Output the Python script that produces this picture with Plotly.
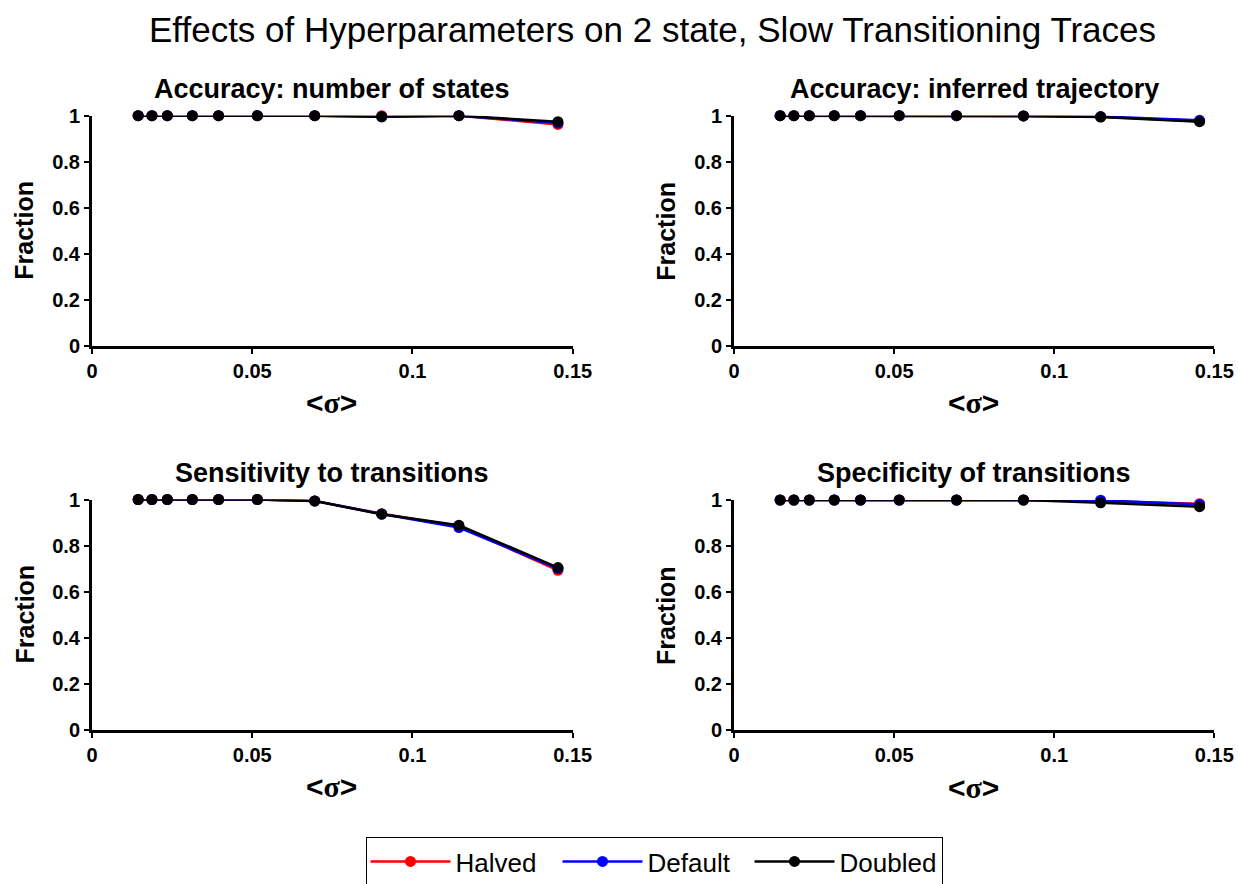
import plotly.graph_objects as go

W, H = 1238, 884


def px(xp):
    return xp / W


def py(yp):
    return 1 - yp / H


sigma = [0.0144, 0.0187, 0.0235, 0.0313, 0.0395, 0.0516, 0.0695, 0.0904, 0.1145, 0.1454]

series_names = ["Halved", "Default", "Doubled"]
series_colors = ["#ff0000", "#0000ff", "#000000"]

panel_titles = [
    "Accuracy: number of states",
    "Accuracy: inferred trajectory",
    "Sensitivity to transitions",
    "Specificity of transitions",
]

num_states_halved = [1, 1, 1, 1, 1, 1, 1, 1.000, 1.000, 0.962]
num_states_default = [1, 1, 1, 1, 1, 1, 1, 0.995, 1.000, 0.968]
num_states_doubled = [1, 1, 1, 1, 1, 1, 1, 0.995, 1.000, 0.974]

trajectory_halved = [1, 1, 1, 1, 1, 1, 1, 0.999, 0.995, 0.976]
trajectory_default = [1, 1, 1, 1, 1, 1, 1, 0.999, 0.996, 0.980]
trajectory_doubled = [1, 1, 1, 1, 1, 1, 1, 0.999, 0.994, 0.974]

sensitivity_halved = [1, 1, 1, 1, 1, 1, 0.994, 0.938, 0.884, 0.692]
sensitivity_default = [1, 1, 1, 1, 1, 1, 0.994, 0.937, 0.878, 0.700]
sensitivity_doubled = [1, 1, 1, 1, 1, 1, 0.993, 0.936, 0.888, 0.704]

specificity_halved = [1, 1, 1, 1, 1, 1, 1, 1.000, 0.995, 0.984]
specificity_default = [1, 1, 1, 1, 1, 1, 1, 1.000, 0.999, 0.980]
specificity_doubled = [1, 1, 1, 1, 1, 1, 1, 1.000, 0.988, 0.971]

panels = [
    [num_states_halved, num_states_default, num_states_doubled],
    [trajectory_halved, trajectory_default, trajectory_doubled],
    [sensitivity_halved, sensitivity_default, sensitivity_doubled],
    [specificity_halved, specificity_default, specificity_doubled],
]

x_ticks = [0, 0.05, 0.1, 0.15]
x_ticklabels = ["0", "0.05", "0.1", "0.15"]
y_ticks = [0, 0.2, 0.4, 0.6, 0.8, 1]
y_ticklabels = ["0", "0.2", "0.4", "0.6", "0.8", "1"]

# pixel boxes (left, right, top, bottom) of each plot area
boxes = [
    (92, 572.7, 115.7, 345.7),
    (734, 1214.3, 115.7, 345.7),
    (92, 572.7, 499.5, 729.5),
    (734, 1214.3, 500, 730),
]

FONT = "Liberation Sans, Arial, sans-serif"

fig = go.Figure()
for i, (ydata, box) in enumerate(zip(panels, boxes)):
    ax = "" if i == 0 else str(i + 1)
    for name, color, ys in zip(series_names, series_colors, ydata):
        fig.add_trace(go.Scatter(
            x=sigma, y=ys, mode="lines+markers", name=name,
            line=dict(color=color, width=2.5),
            marker=dict(color=color, size=11, symbol="circle"),
            xaxis="x" + ax, yaxis="y" + ax,
            showlegend=(i == 0), legendgroup=name, cliponaxis=False,
        ))
    l, r, t, b = box
    common = dict(showgrid=False, zeroline=False, showline=True, linecolor="black",
                  linewidth=3, ticks="outside", ticklen=5, tickwidth=2, tickcolor="black",
                  automargin=False,
                  tickfont=dict(family=FONT, size=20, color="black", weight="bold"))
    fig.layout["xaxis" + ax] = dict(
        domain=[px(l), px(r)], range=[0, 0.15], anchor="y" + ax,
        tickvals=x_ticks, ticktext=x_ticklabels, **common)
    fig.layout["yaxis" + ax] = dict(
        domain=[py(b), py(t)], range=[0, 1], anchor="x" + ax,
        tickvals=y_ticks, ticktext=y_ticklabels, **common)
    cx = (l + r) / 2
    annotations = [
        dict(text="<b>" + panel_titles[i] + "</b>", x=px(cx), y=py(t - 27),
             font=dict(size=27, family=FONT, color="black")),
        dict(text="<b>&lt;<span style='font-family:Liberation Serif'>σ</span>&gt;</b>",
             x=px(cx - 1), y=py(t + 287),
             font=dict(size=30, family=FONT, color="black")),
        dict(text="<b>Fraction</b>", x=px(l - 68), y=py(t + 115), textangle=-90,
             font=dict(size=25, family=FONT, color="black")),
    ]
    for a in annotations:
        a.update(xref="paper", yref="paper", showarrow=False, xanchor="center", yanchor="middle")
        fig.add_annotation(**a)

fig.add_annotation(text="Effects of Hyperparameters on 2 state, Slow Transitioning Traces",
                   x=px(652), y=py(30), xref="paper", yref="paper", showarrow=False,
                   xanchor="center", yanchor="middle",
                   font=dict(size=35, family=FONT, color="black"))

fig.update_layout(
    template="none",
    width=W, height=H,
    margin=dict(l=0, r=0, t=0, b=0, pad=0, autoexpand=False),
    paper_bgcolor="white", plot_bgcolor="white",
    legend=dict(orientation="h", x=px(654), y=py(837), xanchor="center", yanchor="top",
                bordercolor="black", borderwidth=1, bgcolor="white",
                font=dict(family=FONT, size=26, color="black"),
                itemwidth=80, entrywidth=97, entrywidthmode="pixels", tracegroupgap=0),
)

fig.write_html("out.html")
